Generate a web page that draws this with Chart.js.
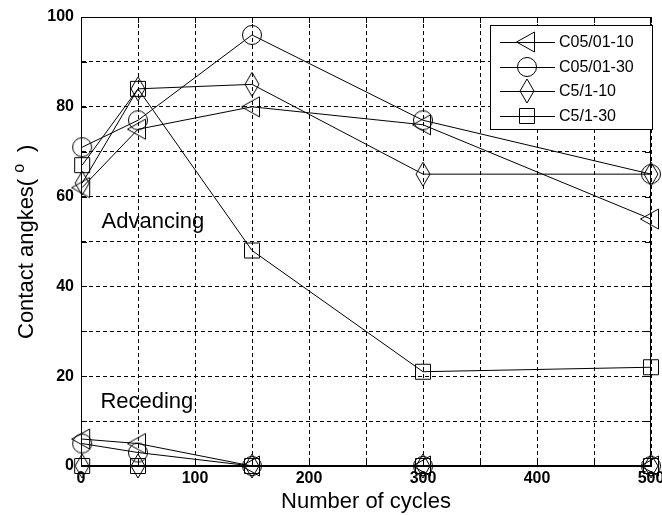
<!DOCTYPE html>
<html>
<head>
<meta charset="utf-8">
<script src="https://cdn.jsdelivr.net/npm/chart.js@4.4.0/dist/chart.umd.min.js"></script>
<style>
  html, body { margin: 0; padding: 0; background: #fff; }
  #wrap { width: 662px; height: 515px; }
</style>
</head>
<body>
<div id="wrap"><canvas id="myChart"></canvas></div>
<script>
// DATA
const cycles = [1, 50, 150, 300, 500];
const seriesNames = ['C05/01-10', 'C05/01-30', 'C5/1-10', 'C5/1-30'];

// advancing angles
const advC0510 = [62, 75, 80, 76, 55];
const advC0530 = [71, 77, 96, 77, 65];
const advC510 = [63, 84, 85, 65, 65];
const advC530 = [67, 84, 48, 21, 22];

// receding angles
const recC0510 = [6, 5, 0, 0, 0];
const recC0530 = [5, 3, 0, 0, 0];
const recC510 = [0, 0, 0, 0, 0];
const recC530 = [0, 0, 0, 0, 0];

const xTickLabels = [0, 100, 200, 300, 400, 500];
const yTickLabels = [0, 20, 40, 60, 80, 100];

const FONT = '"Liberation Sans", Arial, sans-serif';

// MARKERS (hollow, matlab style)
function makeMarker(kind) {
  let c = document.createElement('canvas');
  c.width = 30; c.height = 30;
  let g = c.getContext('2d');
  g.strokeStyle = '#000';
  g.lineWidth = 1;
  g.beginPath();
  if (kind === 'tri') {
    g.moveTo(4.5, 15); g.lineTo(22.5, 5); g.lineTo(22.5, 25); g.closePath();
  } else if (kind === 'circle') {
    g.arc(15, 15, 9.5, 0, Math.PI * 2);
  } else if (kind === 'diamond') {
    g.moveTo(15, 3); g.lineTo(22, 15); g.lineTo(15, 27); g.lineTo(8, 15); g.closePath();
  } else {
    g.rect(7.5, 7.5, 15, 15);
  }
  g.stroke();
  return c;
}
const markers = [makeMarker('tri'), makeMarker('circle'), makeMarker('diamond'), makeMarker('square')];

function toPoints(values) {
  return cycles.map((x, i) => ({ x: x, y: values[i] }));
}

function dataset(label, values, idx) {
  return {
    label: label,
    data: toPoints(values),
    borderColor: '#000',
    borderWidth: 1,
    backgroundColor: 'transparent',
    pointStyle: markers[idx],
    pointRadius: 10,
    pointHoverRadius: 10,
    tension: 0,
    fill: false,
    clip: false
  };
}

const advSeries = [advC0510, advC0530, advC510, advC530];
const recSeries = [recC0510, recC0530, recC510, recC530];
let datasets = [];
seriesNames.forEach((name, i) => {
  datasets.push(dataset(name, advSeries[i], i));
  datasets.push(dataset(name + ' receding', recSeries[i], i));
});

// frame, inner ticks, texts and legend
const decor = {
  id: 'decor',
  beforeDatasetsDraw(chart) {
    const { ctx, chartArea: a, scales: { x, y } } = chart;
    ctx.save();
    ctx.strokeStyle = '#000';
    ctx.lineWidth = 1;
    ctx.strokeRect(Math.round(a.left) + 0.5, Math.round(a.top) + 0.5,
      Math.round(a.right - a.left) - 1, Math.round(a.bottom - a.top) - 1);
    ctx.beginPath();
    x.ticks.forEach(t => {
      const px = Math.round(x.getPixelForValue(t.value)) + 0.5;
      ctx.moveTo(px, a.top); ctx.lineTo(px, a.top + 6);
      ctx.moveTo(px, a.bottom); ctx.lineTo(px, a.bottom - 6);
    });
    y.ticks.forEach(t => {
      const py = Math.round(y.getPixelForValue(t.value)) + 0.5;
      ctx.moveTo(a.left, py); ctx.lineTo(a.left + 6, py);
      ctx.moveTo(a.right, py); ctx.lineTo(a.right - 6, py);
    });
    ctx.stroke();

    // region labels
    ctx.fillStyle = '#000';
    ctx.font = '22px ' + FONT;
    ctx.textAlign = 'left';
    ctx.textBaseline = 'alphabetic';
    ctx.fillText('Advancing', x.getPixelForValue(18), y.getPixelForValue(53));
    ctx.fillText('Receding', x.getPixelForValue(17), y.getPixelForValue(13));

    // axis titles
    ctx.textAlign = 'center';
    ctx.textBaseline = 'middle';
    ctx.fillText('Number of cycles', (a.left + a.right) / 2, 502);

    // y title, read bottom to top, superscript o
    ctx.translate(27, (a.top + a.bottom) / 2);
    ctx.rotate(-Math.PI / 2);
    ctx.textAlign = 'left';
    const main = 'Contact angkes(';
    ctx.font = '22px ' + FONT;
    const w1 = ctx.measureText(main).width;
    const total = 195;
    let sx = -total / 2;
    ctx.fillText(main, sx, 0);
    ctx.font = '16px ' + FONT;
    ctx.fillText('o', sx + w1 + 6, -7);
    ctx.font = '22px ' + FONT;
    ctx.fillText(')', sx + total - 8, 0);
    ctx.restore();
  },
  afterDraw(chart) {
    const { ctx } = chart;
    ctx.save();
    const bx = 490.5, by = 25.5, bw = 162, bh = 104;
    ctx.fillStyle = '#fff';
    ctx.fillRect(bx, by, bw, bh);
    ctx.strokeStyle = '#000';
    ctx.lineWidth = 1;
    ctx.strokeRect(bx, by, bw, bh);
    ctx.font = '16px ' + FONT;
    ctx.fillStyle = '#000';
    ctx.textBaseline = 'middle';
    ctx.textAlign = 'left';
    seriesNames.forEach((name, i) => {
      const ry = Math.round(42 + i * 24.7) + 0.5;
      ctx.beginPath();
      ctx.moveTo(500, ry); ctx.lineTo(555, ry);
      ctx.stroke();
      ctx.drawImage(markers[i], 527 - 15, ry - 15.5);
      ctx.fillText(name, 559, ry);
    });
    ctx.restore();
  }
};

new Chart(document.getElementById('myChart'), {
  type: 'line',
  data: { datasets: datasets },
  options: {
    responsive: true,
    maintainAspectRatio: false,
    animation: false,
    events: [],
    layout: { padding: { top: 17, right: 10, left: 0, bottom: 0 } },
    plugins: {
      legend: { display: false },
      tooltip: { enabled: false }
    },
    scales: {
      x: {
        type: 'linear',
        min: 0,
        max: 500,
        ticks: {
          stepSize: 50,
          autoSkip: false,
          maxRotation: 0,
          padding: 3,
          color: '#000',
          font: { family: FONT, size: 16, weight: 'bold' },
          callback: v => xTickLabels.includes(v) ? String(v) : ''
        },
        grid: { color: '#000', lineWidth: 1, drawTicks: false },
        border: { display: true, color: '#000', width: 1, dash: [4, 3] },
        afterFit: s => { s.height = 49; s.paddingLeft = 0; s.paddingRight = 0; }
      },
      y: {
        min: 0,
        max: 100,
        ticks: {
          stepSize: 10,
          autoSkip: false,
          padding: 7,
          color: '#000',
          font: { family: FONT, size: 16, weight: 'bold' },
          callback: v => yTickLabels.includes(v) ? String(v) : ''
        },
        grid: { color: '#000', lineWidth: 1, drawTicks: false },
        border: { display: true, color: '#000', width: 1, dash: [4, 3] },
        afterFit: s => { s.width = 81; s.paddingTop = 0; s.paddingBottom = 0; }
      }
    }
  },
  plugins: [decor]
});
</script>
</body>
</html>
